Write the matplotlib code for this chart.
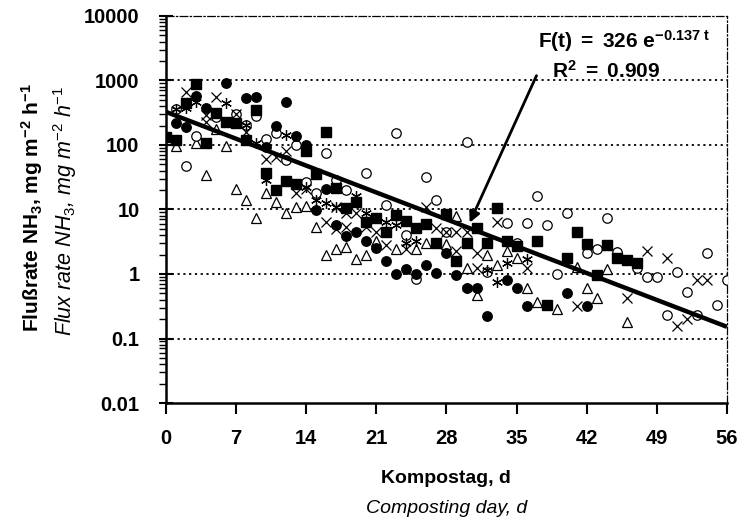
import numpy as np
import matplotlib
matplotlib.use("Agg")
import matplotlib.pyplot as plt
from matplotlib.ticker import LogLocator, NullFormatter, FixedLocator

plt.rcParams['font.family'] = ['Liberation Sans', 'DejaVu Sans']
plt.rcParams['mathtext.fontset'] = 'custom'
plt.rcParams['mathtext.rm'] = 'Liberation Sans'
plt.rcParams['mathtext.bf'] = 'Liberation Sans:bold'
plt.rcParams['mathtext.it'] = 'Liberation Sans:italic'

# filled circles
circ_day = [1, 2, 3, 4, 6, 8, 9, 10, 11, 12, 13, 14, 15, 16, 17, 18, 19, 20, 21, 22, 23, 24, 25, 26, 27,
            28, 29, 30, 31, 32, 34, 35, 36, 40, 42]
circ_val = [220, 190, 570, 380, 910, 530, 550, 94, 195, 470, 137, 100, 9.8, 21, 5.7, 3.9, 4.4, 3.2, 2.5, 1.6,
            1.0, 1.2, 1.0, 1.37, 1.04, 2.1, 0.96, 0.6, 0.6, 0.22, 0.8, 0.6, 0.32, 0.5, 0.32]

# filled squares
sq_day = [0, 1, 2, 3, 4, 5, 6, 7, 8, 9, 10, 11, 12, 13, 14, 15, 16, 17, 18, 19, 20, 21, 22, 23, 24, 25, 26,
          27, 28, 29, 30, 31, 32, 33, 34, 35, 37, 38, 40, 41, 42, 43, 44, 45, 46, 47]
sq_val = [132, 120, 450, 880, 108, 316, 230, 217, 120, 350, 37, 20, 28, 25, 80, 36, 160, 21.5, 10.7, 13,
          6.4, 7.3, 4.4, 8.2, 6.7, 5.1, 5.9, 3.0, 8.6, 1.6, 3.0, 5.1, 3.0, 10.5, 3.3, 2.7, 3.3, 0.33, 1.8,
          4.4, 2.9, 0.97, 2.8, 1.74, 1.64, 1.5]

# open circles
oc_day = [1, 2, 3, 5, 7, 8, 9, 10, 11, 12, 13, 14, 15, 16, 17, 18, 20, 22, 23, 24, 25, 26, 27, 28, 30, 32,
          34, 35, 36, 37, 38, 39, 40, 42, 43, 44, 45, 47, 48, 49, 50, 51, 52, 53, 54, 55, 56]
oc_val = [360, 47, 137, 275, 300, 205, 280, 126, 155, 58, 100, 27, 18, 74, 29, 20, 37, 11.7, 155, 4.0,
          0.85, 32, 14, 4.4, 112, 1.08, 6.1, 3.0, 6.2, 16, 5.7, 1.0, 8.9, 2.1, 2.4, 7.3, 2.2, 1.26, 0.9,
          0.9, 0.23, 1.08, 0.53, 0.23, 2.1, 0.33, 0.8]

# open triangles
tri_day = [1, 3, 4, 5, 6, 7, 8, 9, 10, 11, 12, 13, 14, 15, 16, 17, 18, 19, 20, 21, 23, 25, 26, 28, 29, 30,
           31, 32, 33, 34, 35, 36, 37, 39, 41, 42, 43, 44, 45, 46]
tri_val = [96, 106, 34, 175, 96, 21, 14, 7.5, 18, 13, 8.9, 11, 11.5, 5.4, 2.0, 2.4, 2.6, 1.7, 2.0, 3.3,
           2.4, 2.4, 3.0, 2.9, 7.9, 1.26, 0.47, 2.0, 1.37, 2.3, 1.8, 0.6, 0.37, 0.29, 1.3, 0.6, 0.42, 1.2,
           2.2, 0.18]

# crosses
x_day = [2, 4, 4, 5, 7, 8, 10, 11, 12, 13, 14, 16, 17, 17, 18, 18, 19, 20, 21, 22, 24, 26, 27, 28, 29, 29,
         30, 31, 31, 33, 36, 41, 46, 48, 50, 51, 52, 53, 54]
x_val = [670, 290, 230, 560, 300, 160, 60, 64, 81, 18, 21, 6.4, 4.9, 11, 5.4, 8.7, 8.7, 5.4, 4.5, 2.8, 2.4,
         11, 5.1, 4.4, 4.4, 2.3, 4.4, 2.1, 1.26, 6.4, 1.26, 0.32, 0.43, 2.3, 1.8, 0.155, 0.2, 0.8, 0.8]

# asterisks
ast_day = [1, 2, 3, 6, 8, 9, 10, 12, 14, 15, 16, 17, 19, 20, 22, 23, 24, 25, 30, 32, 33, 34, 36]
ast_val = [360, 370, 470, 445, 205, 108, 29, 142, 22, 14, 12.7, 11, 16, 8.9, 6.4, 5.7, 3.0, 3.3, 0.6, 1.17,
           0.75, 1.5, 1.7]

# fit F(t) = a * exp(b t)
fit_a = 326
fit_b = -0.137
fit_t = np.array([0, 56])

xticks = [0, 7, 14, 21, 28, 35, 42, 49, 56]
yticks = [0.01, 0.1, 1, 10, 100, 1000, 10000]
ytick_labels = ['0.01', '0.1', '1', '10', '100', '1000', '10000']

fig = plt.figure(figsize=(7.45, 5.24), dpi=100)
ax = fig.add_axes([0.2228, 0.2309, 0.7530, 0.7386])
ax.set_yscale('log')
ax.set_xlim(0, 56)
ax.set_ylim(0.01, 10000)

for g in [0.1, 1, 10, 100, 1000]:
    ax.axhline(g, color='black', lw=1.3, ls=(0, (1.2, 2.0)), zorder=1)

ms = 6.8
ax.plot(tri_day, tri_val, ls='none', marker='^', ms=ms, mfc='white', mec='black', mew=0.9, zorder=3)
ax.plot(oc_day, oc_val, ls='none', marker='o', ms=ms, mfc='white', mec='black', mew=0.9, zorder=3)
ax.plot(sq_day, sq_val, ls='none', marker='s', ms=ms - 0.3, mfc='black', mec='black', zorder=3)
ax.plot(circ_day, circ_val, ls='none', marker='o', ms=ms, mfc='black', mec='black', zorder=3)
ax.plot(x_day, x_val, ls='none', marker='x', ms=ms + 0.3, mec='black', mew=0.9, zorder=3)
ax.plot(ast_day, ast_val, ls='none', marker=(6, 2, 0), ms=ms + 1, mec='black', mew=0.9, zorder=3)

ax.plot(fit_t, fit_a * np.exp(fit_b * fit_t), color='black', lw=3.2, zorder=4, solid_capstyle='butt')

ax.annotate('', xy=(30.2, 5.7), xytext=(37.1, 1300),
            arrowprops=dict(arrowstyle='-|>', color='black', lw=2, mutation_scale=16), zorder=5)
ax.text(45.7, 4100, r'$\mathbf{F(t)\ =\ 326\ e^{-0.137\ t}}$', ha='center', va='center', fontsize=15)
ax.text(43.9, 1400, r'$\mathbf{R^2\ =\ 0.909}$', ha='center', va='center', fontsize=15)

for s in ['left', 'bottom']:
    ax.spines[s].set_linewidth(1.8)
for s in ['top', 'right']:
    ax.spines[s].set_linewidth(0.9)
    ax.spines[s].set_linestyle((0, (6, 2, 1, 2)))

ax.xaxis.set_major_locator(FixedLocator(xticks))
ax.set_xticklabels([str(t) for t in xticks], fontweight='bold', fontsize=14.5)
ax.yaxis.set_major_locator(FixedLocator(yticks))
ax.set_yticklabels(ytick_labels, fontweight='bold', fontsize=14.5)
ax.yaxis.set_minor_locator(LogLocator(base=10, subs=np.arange(2, 10), numticks=20))
ax.yaxis.set_minor_formatter(NullFormatter())
ax.tick_params(axis='x', direction='out', length=8, width=1.5, pad=11)
ax.tick_params(axis='y', which='major', direction='inout', length=10, width=1.5, pad=14)
ax.tick_params(axis='y', which='minor', direction='out', length=5, width=1.0)
ax.tick_params(top=False, right=False)

fig.text(0.599, 0.087, 'Kompostag, d', ha='center', va='center', fontsize=14, fontweight='bold')
fig.text(0.599, 0.030, 'Composting day, d', ha='center', va='center', fontsize=14, style='italic')
fig.text(0.043, 0.604, r'Flußrate NH$_\mathbf{3}$, mg m$^{\mathbf{-2}}$ h$^{\mathbf{-1}}$', rotation=90,
         ha='center', va='center', fontsize=15, fontweight='bold')
fig.text(0.087, 0.598, r'Flux rate NH$_\mathit{3}$, mg m$^{\mathit{-2}}$ h$^{\mathit{-1}}$', rotation=90,
         ha='center', va='center', fontsize=15.5, style='italic')

fig.savefig('out.png', dpi=100)
